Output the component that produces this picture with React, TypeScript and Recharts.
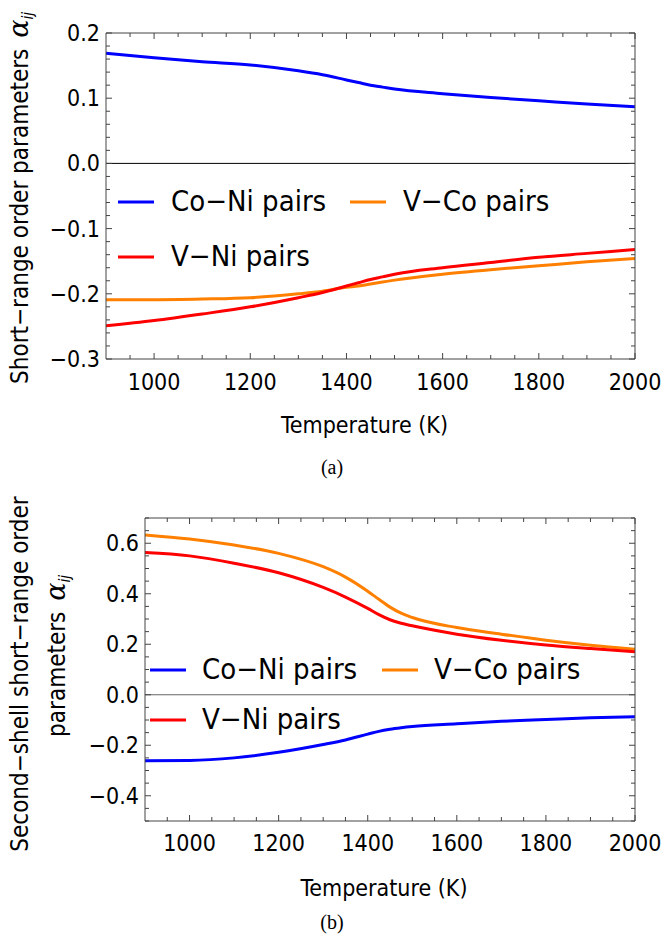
import React from 'react';
import { LineChart, Line, XAxis, YAxis, ReferenceLine } from 'recharts';

const temperatures = [900, 1000, 1100, 1200, 1300, 1350, 1400, 1425, 1450, 1475, 1500, 1600, 1700, 1800, 1900, 2000];

// (a) first-shell short-range order parameters
const coNiFirst = [0.169, 0.162, 0.156, 0.151, 0.142, 0.136, 0.128, 0.124, 0.12, 0.117, 0.114, 0.107, 0.101, 0.096, 0.091, 0.087];
const vCoFirst = [-0.209, -0.209, -0.208, -0.206, -0.2, -0.196, -0.19, -0.188, -0.185, -0.182, -0.179, -0.17, -0.163, -0.157, -0.151, -0.146];
const vNiFirst = [-0.249, -0.241, -0.231, -0.22, -0.206, -0.198, -0.188, -0.183, -0.178, -0.174, -0.17, -0.16, -0.152, -0.144, -0.138, -0.132];

// (b) second-shell short-range order parameters
const coNiSecond = [-0.261, -0.26, -0.25, -0.228, -0.197, -0.179, -0.156, -0.145, -0.137, -0.131, -0.126, -0.115, -0.105, -0.098, -0.091, -0.087];
const vCoSecond = [0.633, 0.617, 0.593, 0.56, 0.507, 0.466, 0.41, 0.378, 0.347, 0.323, 0.306, 0.266, 0.24, 0.216, 0.196, 0.18];
const vNiSecond = [0.563, 0.55, 0.521, 0.483, 0.425, 0.387, 0.342, 0.317, 0.297, 0.283, 0.273, 0.24, 0.216, 0.197, 0.183, 0.17];

const seriesKeys = ['coNi', 'vCo', 'vNi'];
const seriesNames = ['Co\u2212Ni pairs', 'V\u2212Co pairs', 'V\u2212Ni pairs'];
const seriesColors = ['#0000ff', '#ff8000', '#ff0000'];

// tick positions (major ones get labels)
const xTicks = Array.from({ length: 22 }, (_, i) => 950 + i * 50);
const yTicksFirst = Array.from({ length: 26 }, (_, i) => (-30 + i * 2) / 100);
const yTicksSecond = Array.from({ length: 25 }, (_, i) => (-50 + i * 5) / 100);

const FONT = "'DejaVu Sans Condensed', 'Liberation Sans Narrow', 'DejaVu Sans', sans-serif";
const FRAME = '#444';

const buildRows = (a: number[], b: number[], c: number[]) =>
  temperatures.map((T, i) => ({ T, coNi: a[i], vCo: b[i], vNi: c[i] }));

const rowsFirst = buildRows(coNiFirst, vCoFirst, vNiFirst);
const rowsSecond = buildRows(coNiSecond, vCoSecond, vNiSecond);

const fmt = (v: number) => (v < 0 ? '\u2212' : '') + Math.abs(v).toFixed(1);

type LegendSpot = { lineX: number; textX: number; y: number };

type PanelProps = {
  top: number;
  height: number;
  plotTop: number;
  plotBottom: number;
  plotLeft: number;
  plotRight: number;
  rows: any[];
  yDomain: [number, number];
  yTicks: number[];
  yMajorHundredths: number;
  zeroColor: string;
  titleLines: { text: string; x: number; cy: number; alpha: boolean }[];
  legend: LegendSpot[];
  xLabelY: number;
  xTitleY: number;
  caption: string;
  captionY: number;
};

function Panel(p: PanelProps) {
  const isMajorX = (v: number) => v % 200 === 0;
  const isMajorY = (v: number) => Math.round(v * 100) % p.yMajorHundredths === 0;
  const labelGap = p.xLabelY - p.plotBottom;

  const bottomTick = (props: any) => {
    const { x, y, payload } = props;
    const major = isMajorX(payload.value);
    return (
      <g>
        <line x1={x} y1={y} x2={x} y2={y - (major ? 6 : 4)} stroke={FRAME} />
        {major && (
          <text x={x} y={y + labelGap} textAnchor="middle" fontFamily={FONT} fontSize={23} fill="#000">
            {payload.value}
          </text>
        )}
      </g>
    );
  };
  const topTick = (props: any) => {
    const { x, y, payload } = props;
    const major = isMajorX(payload.value);
    return <line x1={x} y1={y} x2={x} y2={y + (major ? 6 : 4)} stroke={FRAME} />;
  };
  const leftTick = (props: any) => {
    const { x, y, payload } = props;
    const major = isMajorY(payload.value);
    return (
      <g>
        <line x1={x} y1={y} x2={x + (major ? 6 : 4)} y2={y} stroke={FRAME} />
        {major && (
          <text x={x - 6} y={y + 8} textAnchor="end" fontFamily={FONT} fontSize={23} fill="#000">
            {fmt(payload.value)}
          </text>
        )}
      </g>
    );
  };
  const rightTick = (props: any) => {
    const { x, y, payload } = props;
    const major = isMajorY(payload.value);
    return <line x1={x} y1={y} x2={x - (major ? 6 : 4)} y2={y} stroke={FRAME} />;
  };

  const localTop = p.plotTop - p.top;
  const localBottom = p.plotBottom - p.top;

  return (
    <div style={{ position: 'absolute', left: 0, top: p.top, width: 664, height: p.height }}>
      <LineChart
        width={664}
        height={p.height}
        data={p.rows}
        margin={{ top: localTop, right: 664 - p.plotRight, left: 0, bottom: 0 }}
      >
        <XAxis
          dataKey="T"
          type="number"
          domain={[900, 2000]}
          ticks={xTicks}
          interval={0}
          allowDataOverflow
          height={p.height - localBottom}
          tickSize={0}
          tickMargin={0}
          tickLine={false}
          tick={bottomTick}
          axisLine={{ stroke: FRAME }}
        />
        <XAxis
          xAxisId="top"
          orientation="top"
          mirror
          dataKey="T"
          type="number"
          domain={[900, 2000]}
          ticks={xTicks}
          interval={0}
          allowDataOverflow
          tickSize={0}
          tickMargin={0}
          tickLine={false}
          tick={topTick}
          axisLine={{ stroke: FRAME }}
        />
        <YAxis
          type="number"
          domain={p.yDomain}
          ticks={p.yTicks}
          interval={0}
          allowDataOverflow
          width={p.plotLeft}
          tickSize={0}
          tickMargin={0}
          tickLine={false}
          tick={leftTick}
          axisLine={{ stroke: FRAME }}
        />
        <YAxis
          yAxisId="right"
          orientation="right"
          mirror
          type="number"
          domain={p.yDomain}
          ticks={p.yTicks}
          interval={0}
          allowDataOverflow
          tickSize={0}
          tickMargin={0}
          tickLine={false}
          tick={rightTick}
          axisLine={{ stroke: FRAME }}
        />
        <ReferenceLine y={0} stroke={p.zeroColor} strokeWidth={1} />
        {seriesKeys.map((key, i) => (
          <Line
            key={key}
            type="monotone"
            dataKey={key}
            name={seriesNames[i]}
            stroke={seriesColors[i]}
            strokeWidth={3}
            dot={false}
            isAnimationActive={false}
          />
        ))}
      </LineChart>
      <svg
        width={664}
        height={p.height}
        style={{ position: 'absolute', left: 0, top: 0, pointerEvents: 'none' }}
      >
        {p.titleLines.map((line, i) => (
          <text
            key={i}
            transform={`translate(${line.x},${line.cy - p.top}) rotate(-90)`}
            textAnchor="middle"
            fontFamily={FONT}
            fontSize={24}
            fill="#000"
          >
            {line.text}
            {line.alpha && (
              <>
                <tspan fontFamily="'DejaVu Serif', serif" fontStyle="italic" fontSize={27} dx={4}>
                  {'\u03b1'}
                </tspan>
                <tspan fontStyle="italic" fontSize={15} dy={5}>
                  ij
                </tspan>
              </>
            )}
          </text>
        ))}
        <text
          x={(p.plotLeft + p.plotRight) / 2 - 6}
          y={p.xTitleY - p.top}
          textAnchor="middle"
          fontFamily={FONT}
          fontSize={23}
          fill="#000"
        >
          Temperature (K)
        </text>
        {p.legend.map((spot, i) => (
          <g key={seriesKeys[i]}>
            <line
              x1={spot.lineX}
              x2={spot.lineX + 36}
              y1={spot.y - p.top}
              y2={spot.y - p.top}
              stroke={seriesColors[i]}
              strokeWidth={3}
            />
            <text x={spot.textX} y={spot.y - p.top + 9} fontFamily={FONT} fontSize={29} fill="#000">
              {seriesNames[i]}
            </text>
          </g>
        ))}
        <text
          x={332}
          y={p.captionY - p.top}
          textAnchor="middle"
          fontFamily="'Liberation Serif', 'Times New Roman', serif"
          fontSize={20}
          fill="#000"
        >
          {p.caption}
        </text>
      </svg>
    </div>
  );
}

export default function App() {
  return (
    <div style={{ position: 'absolute', left: 0, top: 0, width: 664, height: 938, background: '#fff' }}>
      <Panel
        top={0}
        height={480}
        plotTop={33}
        plotBottom={359}
        plotLeft={106}
        plotRight={635}
        rows={rowsFirst}
        yDomain={[-0.3, 0.2]}
        yTicks={yTicksFirst}
        yMajorHundredths={10}
        zeroColor="#000"
        titleLines={[{ text: 'Short\u2212range order parameters ', x: 28, cy: 198, alpha: true }]}
        legend={[
          { lineX: 118, textX: 171, y: 202 },
          { lineX: 350, textX: 403, y: 202 },
          { lineX: 118, textX: 171, y: 257 },
        ]}
        xLabelY={390}
        xTitleY={433}
        caption="(a)"
        captionY={474}
      />
      <Panel
        top={480}
        height={458}
        plotTop={518}
        plotBottom={821}
        plotLeft={145}
        plotRight={635}
        rows={rowsSecond}
        yDomain={[-0.5, 0.7]}
        yTicks={yTicksSecond}
        yMajorHundredths={20}
        zeroColor="#666"
        titleLines={[
          { text: 'Second\u2212shell short\u2212range order', x: 28, cy: 674, alpha: false },
          { text: 'parameters ', x: 65, cy: 656, alpha: true },
        ]}
        legend={[
          { lineX: 150, textX: 202, y: 670 },
          { lineX: 382, textX: 434, y: 670 },
          { lineX: 150, textX: 202, y: 720 },
        ]}
        xLabelY={851}
        xTitleY={896}
        caption="(b)"
        captionY={929}
      />
    </div>
  );
}
